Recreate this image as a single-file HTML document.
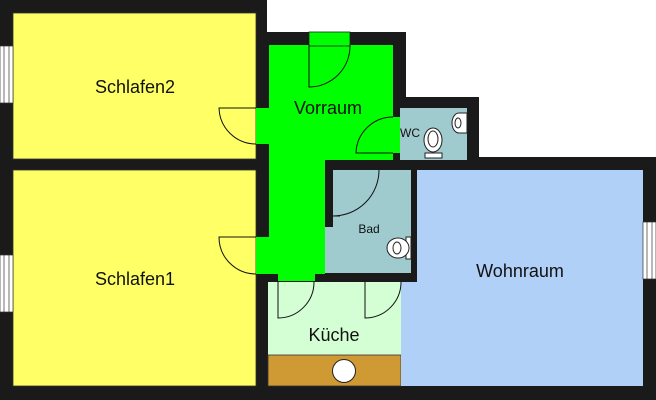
<!DOCTYPE html>
<html><head><meta charset="utf-8"><style>html,body{margin:0;padding:0;background:#fff}svg{display:block}text{font-family:"Liberation Sans",sans-serif;fill:#111}</style></head>
<body>
<svg width="656" height="400" viewBox="0 0 656 400" xmlns="http://www.w3.org/2000/svg">
<path d="M0,0 H267 V32 H406 V97 H479 V157 H656 V400 H0 Z" fill="#1a1a1a"/>
<rect x="13" y="13" width="243" height="146" fill="#ffff66" stroke="#333" stroke-width="0.8"/>
<rect x="13" y="170" width="243" height="216" fill="#ffff66" stroke="#333" stroke-width="0.8"/>
<path d="M269,45 H393 V160 H325 V274 H315 V281 H278 V274 H269 Z" fill="#00ff00"/>
<rect x="256" y="108" width="14" height="36" fill="#00ff00"/>
<rect x="256" y="237" width="14" height="37" fill="#00ff00"/>
<rect x="309" y="32" width="41" height="14" fill="#00ff00" stroke="#222" stroke-width="0.8"/>
<rect x="393" y="117" width="8" height="36" fill="#00ff00"/>
<rect x="400" y="108" width="67" height="52" fill="#9fcbcf"/>
<path d="M333,170 H411 V273 H325 V227 H333 Z" fill="#9fcbcf"/>
<rect x="268" y="282" width="133" height="73" fill="#d4ffd4"/>
<rect x="268" y="355" width="133" height="31" fill="#cf9a33" stroke="#333" stroke-width="0.8"/>
<circle cx="344" cy="371" r="11.5" fill="#fff" stroke="#222" stroke-width="1"/>
<path d="M417,170 H643 V386 H401 V282 H417 Z" fill="#b0d0f8"/>
<g fill="#fff" stroke="#333" stroke-width="0.7">
<rect x="0" y="46" width="13" height="57"/><line x1="4" y1="46" x2="4" y2="103"/><line x1="9" y1="46" x2="9" y2="103"/>
<rect x="0" y="255" width="13" height="57"/><line x1="4" y1="255" x2="4" y2="312"/><line x1="9" y1="255" x2="9" y2="312"/>
<rect x="643" y="222" width="13" height="57"/><line x1="647" y1="222" x2="647" y2="279"/><line x1="652" y1="222" x2="652" y2="279"/>
</g>
<g fill="none" stroke="#111" stroke-width="1">
<path d="M256,108 H219 A37,37 0 0 0 256,144"/>
<path d="M256,237 H219 A37,37 0 0 0 256,274"/>
<path d="M309,45 V87 A41,41 0 0 0 350,45"/>
<path d="M393,153 H356 A37,37 0 0 1 393,117"/>
<path d="M379,170 A46,46 0 0 1 333,216 H340"/>
<path d="M278,282 V318 A36,36 0 0 0 314,282"/>
<path d="M365,282 V318 A36,36 0 0 0 401,282"/>
</g>
<g fill="#fff" stroke="#222" stroke-width="1">
<rect x="425" y="153" width="17" height="5"/>
<ellipse cx="433" cy="140" rx="9" ry="12"/>
<ellipse cx="433" cy="139" rx="5" ry="8"/>
<rect x="406" y="237" width="5" height="22"/>
<ellipse cx="398" cy="248" rx="11" ry="10"/>
<ellipse cx="397" cy="248" rx="4" ry="6"/>
<path d="M467,113 H459 A7,10 0 0 0 459,133 H467 Z"/>
<ellipse cx="458" cy="123" rx="3" ry="5"/>
</g>
<text x="135" y="93" font-size="18" text-anchor="middle">Schlafen2</text>
<text x="135" y="285" font-size="18" text-anchor="middle">Schlafen1</text>
<text x="328" y="114" font-size="18" text-anchor="middle">Vorraum</text>
<text x="410" y="137" font-size="12" text-anchor="middle">WC</text>
<text x="369" y="233" font-size="12" text-anchor="middle">Bad</text>
<text x="334" y="341" font-size="18" text-anchor="middle">Küche</text>
<text x="520" y="277" font-size="18" text-anchor="middle">Wohnraum</text>
</svg>
</body></html>
